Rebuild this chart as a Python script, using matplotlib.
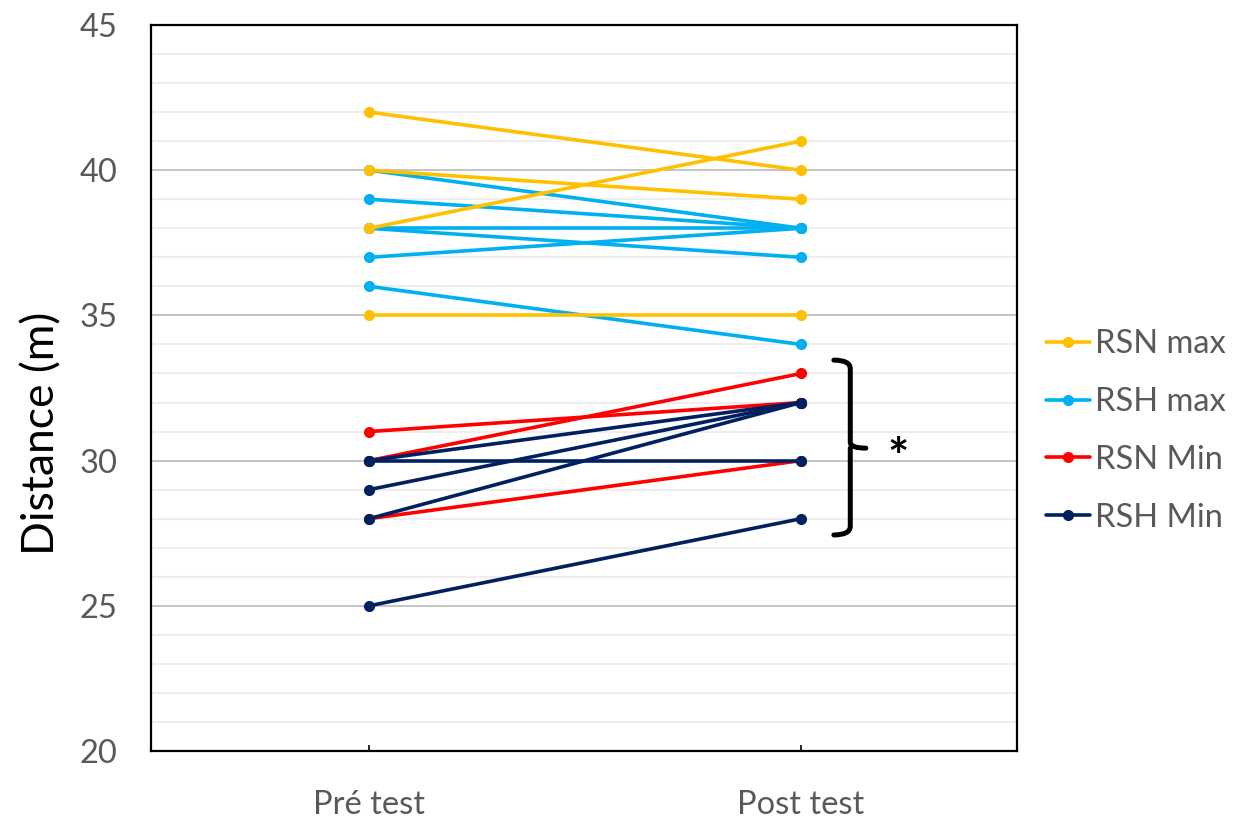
import matplotlib
matplotlib.use("Agg")
import matplotlib.pyplot as plt
from matplotlib.path import Path
from matplotlib.patches import PathPatch
from matplotlib.ticker import MultipleLocator

plt.rcParams['font.family'] = ['Lato', 'DejaVu Sans']

# categories
phases = ["Pré test", "Post test"]

# each participant: pre value, post value
rsn_max_pre = [42, 40, 38, 35]
rsn_max_post = [40, 39, 41, 35]

rsh_max_pre = [40, 39, 38, 38, 37, 36]
rsh_max_post = [38, 38, 38, 37, 38, 34]

rsn_min_pre = [31, 30, 28]
rsn_min_post = [32, 33, 30]

rsh_min_pre = [30, 30, 29, 28, 25]
rsh_min_post = [32, 30, 32, 32, 28]

series = [
    ("RSN max", rsn_max_pre, rsn_max_post, "#FFC000", 3),
    ("RSH max", rsh_max_pre, rsh_max_post, "#00B0F0", 2),
    ("RSN Min", rsn_min_pre, rsn_min_post, "#FF0000", 4),
    ("RSH Min", rsh_min_pre, rsh_min_post, "#002060", 5),
]

fig = plt.figure(figsize=(12.37, 8.25), dpi=100)
ax = fig.add_axes([151 / 1237, 1 - 751 / 825, (1017 - 151) / 1237, (751 - 25) / 825])

x = [0, 1]
handles = []
for name, pre, post, color, z in series:
    for a, b in zip(pre, post):
        h, = ax.plot(x, [a, b], color=color, lw=2.6, marker="o", ms=7,
                     zorder=z, solid_capstyle="round")
    handles.append((h, name))

ax.set_xlim(-0.505, 1.5)
ax.set_ylim(20, 45)
ax.yaxis.set_major_locator(MultipleLocator(5))
ax.yaxis.set_minor_locator(MultipleLocator(1))
ax.grid(which="major", axis="y", color="#BFBFBF", lw=1.3, zorder=0)
ax.grid(which="minor", axis="y", color="#EEEEEE", lw=1.5, zorder=0)
ax.set_axisbelow(True)

ax.set_xticks(x)
ax.set_xticklabels(phases)
ax.tick_params(axis="x", direction="in", length=4, width=1.2, color="black",
               labelsize=23.5, labelcolor="#595959", pad=28)
ax.tick_params(axis="y", which="both", length=0, labelsize=23.5,
               labelcolor="#595959", pad=24)
for s in ax.spines.values():
    s.set_linewidth(1.6)
    s.set_color("black")

fig.text(42 / 1237, 1 - 433 / 825, "Distance (m)", rotation=90, fontsize=32,
         ha="center", va="center", color="black")

# curly brace and significance star
x0, xm, xt = 1.076, 1.114, 1.150
yt, ytip, yb = 33.46, 30.43, 27.44
verts = [(x0, yt), (xm, yt), (xm, yt - 0.3), (xm, ytip + 0.2),
         (xm, ytip), (xt, ytip), (xm, ytip), (xm, ytip - 0.2),
         (xm, yb + 0.3), (xm, yb), (x0, yb)]
codes = [Path.MOVETO, Path.CURVE3, Path.CURVE3, Path.LINETO,
         Path.CURVE3, Path.CURVE3, Path.MOVETO, Path.CURVE3,
         Path.LINETO, Path.CURVE3, Path.CURVE3]
ax.add_patch(PathPatch(Path(verts, codes), fill=False, lw=3.6, color="black",
                       clip_on=False, capstyle="round"))
ax.text(1.225, 30.05, "*", fontsize=36, fontweight="bold", ha="center",
        va="center", color="black", clip_on=False)

fig.legend([h for h, _ in handles], [n for _, n in handles],
           loc="center left", bbox_to_anchor=(1046 / 1237, 1 - 431 / 825),
           frameon=False, fontsize=23.5, labelcolor="#595959",
           handlelength=1.35, handletextpad=0.15, labelspacing=0.85,
           borderpad=0, borderaxespad=0)

fig.savefig("out.png", dpi=100)
